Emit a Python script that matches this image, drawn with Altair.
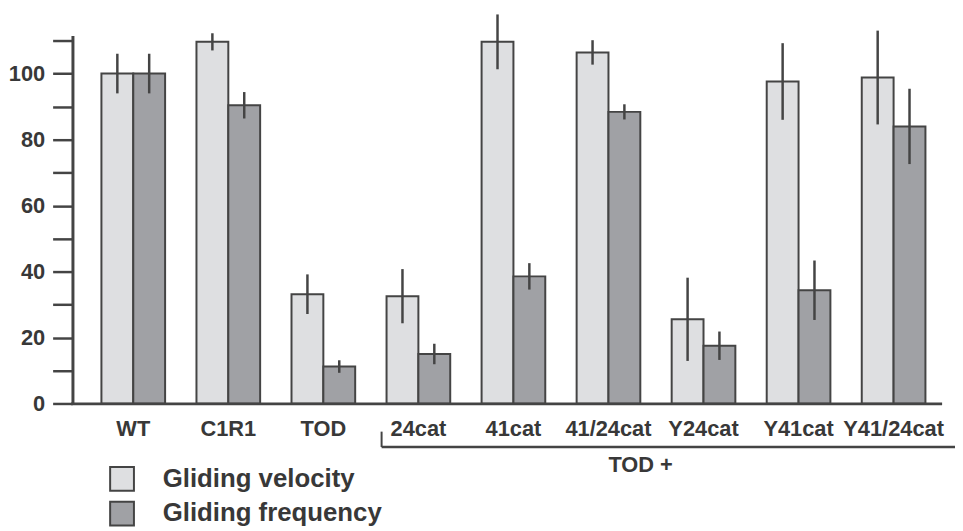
import altair as alt
import pandas as pd

categories = ["WT", "C1R1", "TOD", "24cat", "41cat", "41/24cat", "Y24cat", "Y41cat", "Y41/24cat"]
series_names = ["Gliding velocity", "Gliding frequency"]
velocity = [100, 109.6, 33.2, 32.6, 109.6, 106.4, 25.6, 97.6, 98.8]
velocity_err = [6, 2.6, 6, 8.2, 8.3, 3.7, 12.6, 11.6, 14.2]
frequency = [100, 90.4, 11.3, 15.1, 38.6, 88.4, 17.6, 34.4, 84.0]
frequency_err = [6, 4, 1.9, 3.1, 4, 2.3, 4.3, 9, 11.4]
bracket_start = "24cat"
bracket_label = "TOD +"
y_ticks = list(range(0, 111, 10))

rows = []
for i, c in enumerate(categories):
    rows.append(dict(cat=c, series=series_names[0], value=velocity[i],
                     lo=velocity[i] - velocity_err[i], hi=velocity[i] + velocity_err[i]))
    rows.append(dict(cat=c, series=series_names[1], value=frequency[i],
                     lo=frequency[i] - frequency_err[i], hi=frequency[i] + frequency_err[i]))
df = pd.DataFrame(rows)

W = 877
H = 371.4
FONT = "Liberation Sans"
DARK = "#444444"
TXT = "#383838"

xscale = alt.Scale(domain=categories, range=[13.4, 876], paddingInner=0.33, paddingOuter=0.165)
xaxis = alt.Axis(title=None, labelAngle=0, ticks=False, domain=False, grid=False, labelFont=FONT,
                 labelFontWeight="bold", labelFontSize=22, labelColor=TXT, labelPadding=15)
yscale = alt.Scale(domain=[0, 111.5], nice=False, zero=True)
yaxis = alt.Axis(title=None, values=y_ticks, grid=False, ticks=True, tickSize=20,
                 tickColor=DARK, tickWidth=2.5, tickOpacity=1,
                 labelExpr="datum.value % 20 === 0 ? datum.label : ''", labelOverlap=False,
                 domainColor=DARK, domainWidth=3, labelFont=FONT, labelFontWeight="bold",
                 labelFontSize=22, labelColor=TXT, labelPadding=8)

base = alt.Chart(df)

bars = base.mark_bar(stroke=DARK, strokeWidth=2, opacity=1).encode(
    x=alt.X("cat:N", scale=xscale, axis=xaxis, sort=categories, title=None),
    xOffset=alt.XOffset("series:N", sort=series_names, scale=alt.Scale(paddingInner=0, paddingOuter=0)),
    y=alt.Y("value:Q", scale=yscale, axis=yaxis, title=None),
    fill=alt.Fill("series:N", sort=series_names,
                  scale=alt.Scale(domain=series_names, range=["#dedfe1", "#a0a1a5"]),
                  legend=alt.Legend(title=None, orient="none", legendX=37, legendY=434,
                                    symbolType="square", symbolSize=576, symbolStrokeColor=DARK,
                                    symbolStrokeWidth=2, symbolOpacity=1, labelFont=FONT,
                                    labelFontWeight="bold", labelFontSize=26, labelColor=TXT,
                                    labelOffset=28, labelLimit=600, rowPadding=3, padding=0)),
)

errs = base.mark_rule(color=DARK, strokeWidth=2.5).encode(
    x=alt.X("cat:N", sort=categories, scale=xscale, axis=xaxis, title=None),
    xOffset=alt.XOffset("series:N", sort=series_names, scale=alt.Scale(paddingInner=0, paddingOuter=0)),
    y=alt.Y("lo:Q", scale=yscale, axis=yaxis, title=None),
    y2="hi:Q",
)

baseline = alt.Chart(pd.DataFrame({"v": [0]})).mark_rule(color=DARK, strokeWidth=3).encode(
    y=alt.Y("v:Q", scale=yscale, axis=yaxis, title=None), x=alt.value(-1.5), x2=alt.value(W)
)

bdf = pd.DataFrame({"cat": [bracket_start], "label": [bracket_label]})
bracket_v = alt.Chart(bdf).mark_rule(color=DARK, strokeWidth=2, xOffset=-5).encode(
    x=alt.X("cat:N", sort=categories, bandPosition=0, scale=xscale, axis=xaxis, title=None),
    y=alt.value(H + 28), y2=alt.value(H + 43.5)
)
bracket_h = alt.Chart(bdf).mark_rule(color=DARK, strokeWidth=2.5, xOffset=-5).encode(
    x=alt.X("cat:N", sort=categories, bandPosition=0, scale=xscale, axis=xaxis, title=None),
    x2=alt.value(W + 20),
    y=alt.value(H + 43.5)
)
bracket_t = alt.Chart(bdf).mark_text(font=FONT, fontWeight="bold", fontSize=22, color=TXT,
                                     align="center", baseline="middle").encode(
    text="label:N", x=alt.value(573), y=alt.value(H + 62)
)

chart = alt.layer(bars, errs, baseline, bracket_v, bracket_h, bracket_t).properties(
    width=W, height=H,
    background="white",
    autosize=alt.AutoSizeParams(type="none"),
    padding={"left": 65, "top": 25.6, "right": 13, "bottom": 126},
).configure_view(strokeWidth=0, stroke="transparent")

chart.save("out.html", embed_options={"renderer": "svg", "actions": False})
